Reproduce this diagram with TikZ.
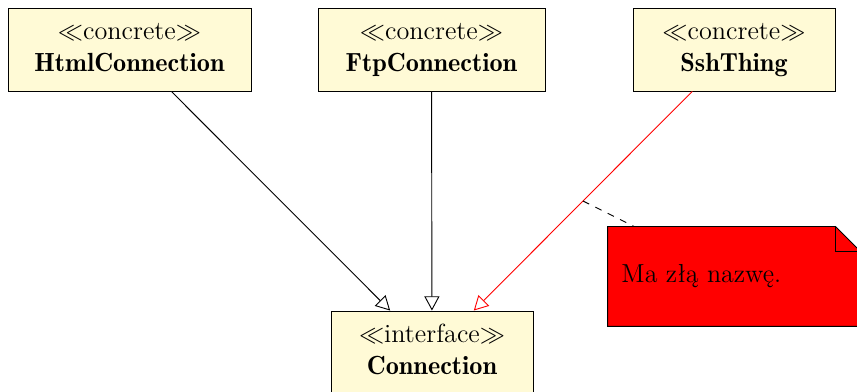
\documentclass[tikz,border=0pt]{standalone}
\usetikzlibrary{arrows.meta}
\definecolor{classfill}{RGB}{255,250,214}
\begin{document}
\begin{tikzpicture}[x=0.4348pt,y=-0.4348pt,
  umlclass/.style={draw, fill=classfill, inner sep=0pt,
    minimum height=83*0.4348pt},
  stereo/.style={anchor=base, inner sep=0pt, font=\fontsize{11.4}{13.7}\selectfont},
  classname/.style={anchor=base, inner sep=0pt,
    font=\fontsize{11.4}{13.7}\fontseries{b}\selectfont},
  inherit/.style={-{Triangle[open,length=6.2pt,width=6.6pt]}, fill=white},
  notebox/.style={inner sep=0pt, minimum width=252*0.4348pt,
    minimum height=99*0.4348pt}]
  \useasboundingbox (0,0) rectangle (857,392);

  % classes
  \node[umlclass, minimum width=243*0.4348pt] (html) at (129.5,49.5) {};
  \node[umlclass, minimum width=227*0.4348pt] (ftp) at (431.5,49.5) {};
  \node[umlclass, minimum width=202*0.4348pt] (ssh) at (734,49.5) {};
  \node[umlclass, minimum width=202*0.4348pt] (conn) at (432,352.5) {};

  % stereotypes and class names
  \foreach \cls/\st/\nm in {html/concrete/HtmlConnection, ftp/concrete/FtpConnection,
      ssh/concrete/SshThing, conn/interface/Connection} {
    \node[stereo] (\cls-st) at ([yshift=-13.9pt]\cls.north) {$\ll$\st$\gg$};
    \node[classname] (\cls-nm) at ([yshift=-27.8pt]\cls.north) {\nm};
  }

  % note with folded corner
  \node[notebox] (note) at (734,276.5) {};
  \draw[fill=red] (note.south west) |- ([xshift=-10.87pt]note.north east)
    -- ([yshift=-10.87pt]note.north east) |- cycle;
  \draw ([xshift=-10.87pt]note.north east) -- ++(0,25) -- ([yshift=-10.87pt]note.north east);
  \node[anchor=base west, inner sep=0pt, font=\fontsize{11.3}{13.6}\selectfont]
    (notetext) at (621,282.5) {Ma złą nazwę.};

  % generalisations
  \draw[inherit] (html) -- (conn);
  \draw[inherit] (ftp) -- (conn);
  \draw[inherit, draw=red] (ssh) -- (conn);

  % note attachment
  \path (ssh.center) -- (conn.center) coordinate[pos=0.5] (mid);
  \draw[dashed] (mid) -- (note);
\end{tikzpicture}
\end{document}
